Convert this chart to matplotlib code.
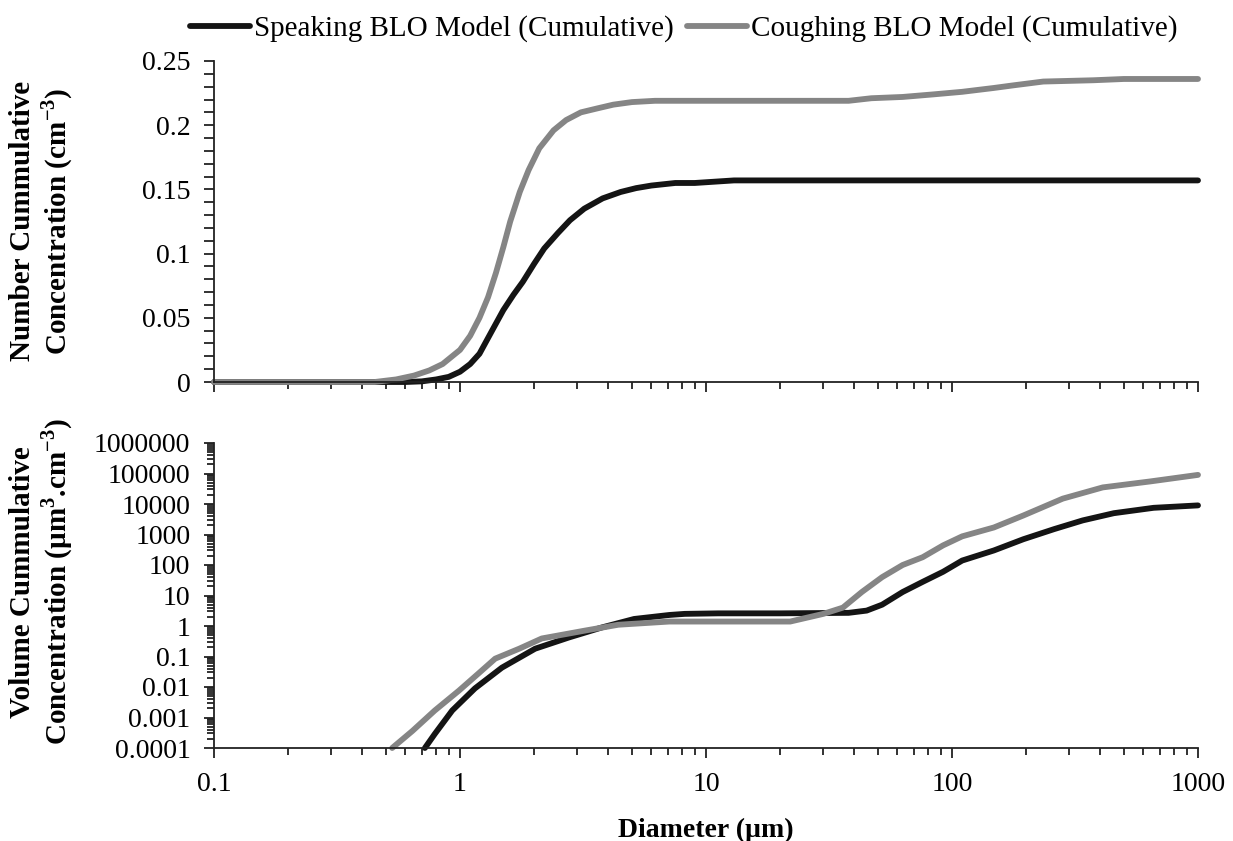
import numpy as np
import matplotlib
matplotlib.use("Agg")
import matplotlib.pyplot as plt
from matplotlib.ticker import FixedLocator, NullFormatter, LogLocator

plt.rcParams['font.family'] = ['Liberation Serif', 'DejaVu Serif']
plt.rcParams['mathtext.fontset'] = 'custom'
plt.rcParams['mathtext.rm'] = 'Liberation Serif'
plt.rcParams['mathtext.bf'] = 'Liberation Serif:bold'

BLACK = '#141414'
GRAY = '#858585'

# number cumulative concentration (cm^-3)
num_speak_x = [0.1, 0.6, 0.7, 0.8, 0.9, 1.0, 1.1, 1.2, 1.35, 1.5, 1.65, 1.8, 2.0, 2.2,
               2.5, 2.8, 3.2, 3.8, 4.5, 5.2, 6.0, 7.5, 9.0, 13.0, 1000.0]
num_speak_y = [0.0, 0.0, 0.0005, 0.002, 0.004, 0.008, 0.014, 0.022, 0.04, 0.056, 0.068,
               0.078, 0.092, 0.104, 0.116, 0.126, 0.135, 0.143, 0.148, 0.151, 0.153,
               0.155, 0.155, 0.157, 0.157]
num_cough_x = [0.1, 0.45, 0.55, 0.65, 0.75, 0.85, 1.0, 1.1, 1.2, 1.3, 1.4, 1.5, 1.6,
               1.75, 1.9, 2.1, 2.4, 2.7, 3.1, 3.6, 4.2, 5.0, 6.2, 8.0, 38.0, 47.0,
               63.0, 84.0, 110.0, 148.0, 177.0, 235.0, 375.0, 500.0, 1000.0]
num_cough_y = [0.0, 0.0, 0.002, 0.005, 0.009, 0.014, 0.025, 0.036, 0.05, 0.066, 0.085,
               0.105, 0.125, 0.148, 0.165, 0.182, 0.196, 0.204, 0.21, 0.213, 0.216,
               0.218, 0.219, 0.219, 0.219, 0.221, 0.222, 0.224, 0.226, 0.229, 0.231,
               0.234, 0.235, 0.236, 0.236]

# volume cumulative concentration (um^3.cm^-3)
vol_speak_x = [0.72, 0.79, 0.93, 1.15, 1.48, 2.02, 2.77, 3.78, 5.1, 7.1, 8.2, 11.2,
               20.0, 38.0, 45.0, 52.0, 63.0, 76.0, 92.0, 110.0, 148.0, 195.0, 260.0,
               340.0, 455.0, 660.0, 1000.0]
vol_speak_y = [1e-4, 2.9e-4, 1.7e-3, 9e-3, 4.3e-2, 0.18, 0.42, 0.9, 1.7, 2.3, 2.5, 2.6,
               2.6, 2.7, 3.2, 5.0, 13.0, 28.0, 60.0, 140.0, 300.0, 700.0, 1500.0,
               2900.0, 5000.0, 7500.0, 9000.0]
vol_cough_x = [0.53, 0.64, 0.79, 0.99, 1.19, 1.39, 1.74, 2.15, 3.2, 4.4, 7.1, 10.0,
               22.0, 30.0, 36.0, 43.0, 52.0, 63.0, 76.0, 92.0, 110.0, 148.0, 195.0,
               282.0, 410.0, 640.0, 1000.0]
vol_cough_y = [1e-4, 3.6e-4, 1.7e-3, 7.6e-3, 2.8e-2, 8.5e-2, 0.18, 0.39, 0.7, 1.1, 1.4,
               1.4, 1.4, 2.5, 4.0, 13.0, 40.0, 100.0, 180.0, 440.0, 870.0, 1700.0,
               4200.0, 15000.0, 35000.0, 55000.0, 90000.0]

x_ticks = [0.1, 1, 10, 100, 1000]
x_labels = ['0.1', '1', '10', '100', '1000']
num_ticks = [0, 0.05, 0.1, 0.15, 0.2, 0.25]
num_labels = ['0', '0.05', '0.1', '0.15', '0.2', '0.25']
vol_ticks = [1e-4, 1e-3, 1e-2, 1e-1, 1, 10, 100, 1000, 1e4, 1e5, 1e6]
vol_labels = ['0.0001', '0.001', '0.01', '0.1', '1', '10', '100', '1000', '10000',
              '100000', '1000000']

W, H = 1233, 841
fig = plt.figure(figsize=(W / 100, H / 100), dpi=100)
ax1 = fig.add_axes([214 / W, 1 - 382 / H, (1198 - 214) / W, (382 - 61) / H])
ax2 = fig.add_axes([214 / W, 1 - 748 / H, (1198 - 214) / W, (748 - 443) / H])

lw = 4.2
ax1.plot(num_speak_x, num_speak_y, color=BLACK, lw=lw, solid_capstyle='round',
         label='Speaking BLO Model (Cumulative)')
ax1.plot(num_cough_x, num_cough_y, color=GRAY, lw=lw, solid_capstyle='round',
         label='Coughing BLO Model (Cumulative)')
ax2.plot(vol_speak_x, vol_speak_y, color=BLACK, lw=lw, solid_capstyle='round')
ax2.plot(vol_cough_x, vol_cough_y, color=GRAY, lw=lw, solid_capstyle='round')

for ax in (ax1, ax2):
    ax.set_xscale('log')
    ax.set_xlim(0.1, 1000)
    ax.spines['top'].set_visible(False)
    ax.spines['right'].set_visible(False)
    for s in ('left', 'bottom'):
        ax.spines[s].set_linewidth(1.3)
        ax.spines[s].set_color('#222222')
    ax.xaxis.set_major_locator(FixedLocator(x_ticks))
    ax.xaxis.set_minor_locator(LogLocator(base=10, subs=np.arange(2, 10)))
    ax.xaxis.set_minor_formatter(NullFormatter())
    ax.tick_params(which='major', direction='out', length=7, width=1.3, color='#222222',
                   labelsize=20, pad=10)
    ax.tick_params(which='minor', direction='out', length=5, width=1.3, color='#222222')
    for line in ax.lines:
        line.set_clip_on(False)

ax1.set_xticks(x_ticks)
ax1.set_xticklabels([])
ax1.set_ylim(0, 0.25)
ax1.set_yticks(num_ticks)
ax1.set_yticklabels(num_labels)
ax1.yaxis.set_minor_locator(FixedLocator(np.arange(0, 0.2501, 0.01)))
ax1.tick_params(axis='y', which='minor', length=7)

ax2.set_yscale('log')
ax2.set_ylim(1e-4, 1e6)
ax2.set_yticks(vol_ticks)
ax2.set_yticklabels(vol_labels)
ax2.yaxis.set_minor_locator(LogLocator(base=10, subs=np.arange(2, 10), numticks=20))
ax2.yaxis.set_minor_formatter(NullFormatter())
ax2.set_xticks(x_ticks)
ax2.set_xticklabels(x_labels)

fig.text(42 / W, 1 - 221 / H, 'Number Cummulative\nConcentration (cm$^{\\mathbf{-3}}$)',
         rotation=90, ha='center', va='center', multialignment='center',
         fontsize=21, fontweight='bold', linespacing=1.15)
fig.text(42 / W, 1 - 582 / H,
         'Volume Cummulative\nConcentration (\u00b5m$^{\\mathbf{3}}$.cm$^{\\mathbf{-3}}$)',
         rotation=90, ha='center', va='center', multialignment='center',
         fontsize=21, fontweight='bold', linespacing=1.15)
fig.text(706 / W, 1 - 830 / H, 'Diameter (\u00b5m)', ha='center', va='center',
         fontsize=20, fontweight='bold')

fig.legend(loc='center', bbox_to_anchor=(684 / W, 1 - 29 / H), ncol=2, frameon=False,
           fontsize=21, handlelength=2.05, handletextpad=0.14, columnspacing=0.45,
           borderaxespad=0, borderpad=0)

fig.savefig('out.png', dpi=100)
